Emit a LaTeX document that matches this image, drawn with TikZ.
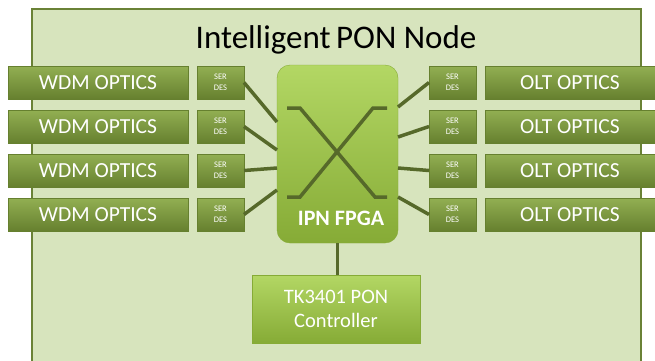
\documentclass[tikz,border=0pt]{standalone}
\usepackage{fontspec}
\setmainfont{Carlito}
\usepackage{tikz}
\usetikzlibrary{positioning, calc}

\definecolor{nodebg}{HTML}{D7E4BD}
\definecolor{nodeline}{HTML}{6A8236}
\definecolor{oliveTop}{HTML}{92AF52}
\definecolor{oliveMid}{HTML}{7A973D}
\definecolor{oliveBot}{HTML}{66802F}
\definecolor{limeTop}{HTML}{B3D764}
\definecolor{limeMid}{HTML}{9CC447}
\definecolor{limeBot}{HTML}{86AB36}
\definecolor{wirecol}{HTML}{56692A}

\begin{document}
\begin{tikzpicture}[
        x=1pt, y=-1pt,             % pixel-like units, y grows downwards
        node distance=11pt and 9pt,
        box/.style={               % common look of the olive blocks
            draw=oliveBot,
            top color=oliveTop,
            middle color=oliveMid,
            bottom color=oliveBot,
            text=white,
            inner sep=0pt,
            outer sep=0pt,
            minimum height=33pt
        },
        optics/.style={box, minimum width=180pt, font=\fontsize{21.5}{24}\selectfont},
        oltoptics/.style={box, minimum width=170pt, font=\fontsize{21.5}{24}\selectfont},
        serdes/.style={box, minimum width=47pt, align=center,
            font=\fontsize{8.5}{10.5}\selectfont},
        brightbox/.style={         % bright green blocks (FPGA, controller)
            draw=limeBot,
            top color=limeTop,
            middle color=limeMid,
            bottom color=limeBot,
            text=white,
            inner sep=0pt,
            outer sep=0pt
        },
        wire/.style={draw=wirecol, line width=3.5pt},
        cross/.style={draw=wirecol, line width=3.5pt}
    ]

    \useasboundingbox (0,0) rectangle (655,360);

    % --- Frame of the node ---
    \fill[nodebg] (32,9) rectangle (641,370);
    \draw[nodeline, line width=1.2pt] (32,370) -- (32,9) -- (641,9) -- (641,370);
    \node[anchor=base, font=\fontsize{33}{36}\selectfont] (title) at (336,48) {Intelligent\,PON Node};

    % --- Central FPGA ---
    \node[brightbox, rounded corners=13pt, minimum width=121pt, minimum height=178pt] (fpga) at (337.5,154) {};
    \draw[cross] ([shift={(10,43)}]fpga.north west) -- ++(13,0) -- ++(75,89) -- ++(12,0);
    \draw[cross] ([shift={(10,132)}]fpga.north west) -- ++(13,0) -- ++(73,-89) -- ++(14,0);
    \node[text=white, font=\bfseries\fontsize{22}{24}\selectfont] (fpgatext) at ([shift={(3.5,-25)}]fpga.south) {IPN FPGA};

    % --- WDM side (left) ---
    \node[optics] (w1) at (98,82.5) {WDM OPTICS};
    \node[optics] (w2) [below=of w1] {WDM OPTICS};
    \node[optics] (w3) [below=of w2] {WDM OPTICS};
    \node[optics] (w4) [below=of w3] {WDM OPTICS};

    \node[serdes] (sl1) [right=of w1] {SER\\DES};
    \node[serdes] (sl2) [right=of w2] {SER\\DES};
    \node[serdes] (sl3) [right=of w3] {SER\\DES};
    \node[serdes] (sl4) [right=of w4] {SER\\DES};

    % --- OLT side (right) ---
    \node[serdes] (sr1) at (452.5,82.5) {SER\\DES};
    \node[serdes] (sr2) [below=of sr1] {SER\\DES};
    \node[serdes] (sr3) [below=of sr2] {SER\\DES};
    \node[serdes] (sr4) [below=of sr3] {SER\\DES};

    \node[oltoptics] (o1) [right=of sr1] {OLT OPTICS};
    \node[oltoptics] (o2) [right=of sr2] {OLT OPTICS};
    \node[oltoptics] (o3) [right=of sr3] {OLT OPTICS};
    \node[oltoptics] (o4) [right=of sr4] {OLT OPTICS};

    % --- Controller ---
    \node[brightbox, minimum width=168pt, minimum height=68pt, align=center,
          font=\fontsize{20.5}{24}\selectfont] (ctrl) at (336,309) {TK3401 PON\\Controller};

    % --- Links ---
    \path (sl1.east) edge[wire] ([yshift=-57pt]fpga.north west);
    \path (sl2.east) edge[wire] ([yshift=-85pt]fpga.north west);
    \path (sl3.east) edge[wire] ([yshift=-103pt]fpga.north west);
    \path (sl4.east) edge[wire] ([yshift=-125pt]fpga.north west);

    \path (sr1.west) edge[wire] ([yshift=-42pt]fpga.north east);
    \path (sr2.west) edge[wire] ([yshift=-72pt]fpga.north east);
    \path (sr3.west) edge[wire] ([yshift=-103pt]fpga.north east);
    \path (sr4.west) edge[wire] ([yshift=-132pt]fpga.north east);

    \path (fpga.south) edge[wire, line width=3pt] (ctrl.north -| fpga.south);

\end{tikzpicture}
\end{document}
